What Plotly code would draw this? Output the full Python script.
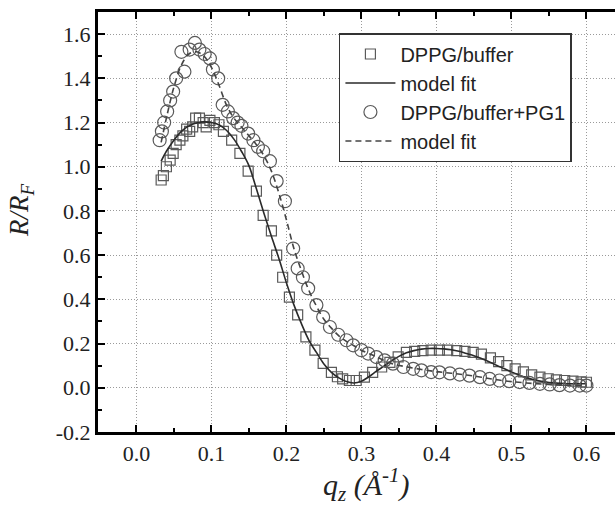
import plotly.graph_objects as go

# ---- data ----
sq_q = [0.033, 0.036, 0.040, 0.045, 0.049, 0.053, 0.058, 0.062, 0.067, 0.071, 0.075, 0.079,
        0.084, 0.089, 0.093, 0.098, 0.104, 0.110, 0.116, 0.127, 0.138, 0.149, 0.160, 0.169,
        0.180, 0.187, 0.195, 0.204, 0.215, 0.226, 0.238, 0.249, 0.260, 0.268, 0.275, 0.284,
        0.293, 0.304, 0.315, 0.327, 0.338, 0.349, 0.360, 0.371, 0.382, 0.393, 0.404, 0.415,
        0.427, 0.438, 0.449, 0.460, 0.472, 0.483, 0.494, 0.505, 0.516, 0.527, 0.538, 0.549,
        0.560, 0.571, 0.582, 0.593, 0.600]
sq_r = [0.94, 0.96, 1.00, 1.03, 1.06, 1.10, 1.12, 1.14, 1.17, 1.16, 1.18, 1.22,
        1.22, 1.20, 1.18, 1.21, 1.20, 1.19, 1.16, 1.12, 1.06, 0.98, 0.89, 0.78,
        0.71, 0.60, 0.50, 0.41, 0.33, 0.23, 0.17, 0.11, 0.07, 0.05, 0.04, 0.033,
        0.033, 0.048, 0.07, 0.094, 0.115, 0.14, 0.16, 0.165, 0.168, 0.17, 0.17, 0.17,
        0.168, 0.165, 0.16, 0.152, 0.135, 0.118, 0.10, 0.086, 0.072, 0.058, 0.048, 0.041,
        0.036, 0.033, 0.03, 0.027, 0.025]

fit1_q = [0.033, 0.04, 0.05, 0.06, 0.07, 0.08, 0.09, 0.10, 0.11, 0.12, 0.13, 0.14, 0.15,
          0.16, 0.17, 0.18, 0.19, 0.20, 0.21, 0.22, 0.23, 0.24, 0.25, 0.26, 0.27, 0.28,
          0.29, 0.30, 0.31, 0.32, 0.33, 0.34, 0.35, 0.36, 0.37, 0.38, 0.39, 0.40, 0.41,
          0.42, 0.43, 0.44, 0.45, 0.46, 0.47, 0.48, 0.49, 0.50, 0.51, 0.52, 0.53, 0.54,
          0.55, 0.56, 0.57, 0.58, 0.59, 0.60]
fit1_r = [1.025, 1.07, 1.12, 1.16, 1.185, 1.198, 1.203, 1.20, 1.19, 1.165, 1.125, 1.07, 1.005,
          0.90, 0.79, 0.685, 0.585, 0.475, 0.375, 0.29, 0.215, 0.16, 0.108, 0.07, 0.045, 0.028,
          0.022, 0.03, 0.05, 0.075, 0.098, 0.122, 0.142, 0.158, 0.168, 0.175, 0.178, 0.178, 0.176,
          0.172, 0.165, 0.155, 0.145, 0.132, 0.118, 0.102, 0.087, 0.072, 0.058, 0.046, 0.036, 0.029,
          0.024, 0.021, 0.019, 0.018, 0.018, 0.018]

ci_q = [0.031, 0.034, 0.037, 0.041, 0.045, 0.049, 0.053, 0.060, 0.064, 0.071, 0.078, 0.084,
        0.091, 0.098, 0.102, 0.109, 0.115, 0.122, 0.129, 0.135, 0.140, 0.149, 0.156, 0.162,
        0.169, 0.178, 0.187, 0.198, 0.209, 0.215, 0.222, 0.229, 0.240, 0.249, 0.258, 0.269,
        0.280, 0.289, 0.300, 0.309, 0.320, 0.331, 0.342, 0.356, 0.369, 0.380, 0.393, 0.404,
        0.418, 0.431, 0.444, 0.458, 0.471, 0.484, 0.497, 0.511, 0.524, 0.538, 0.551, 0.564,
        0.578, 0.591, 0.600]
ci_r = [1.12, 1.16, 1.20, 1.25, 1.30, 1.34, 1.40, 1.52, 1.43, 1.53, 1.56, 1.53,
        1.51, 1.49, 1.44, 1.40, 1.28, 1.25, 1.22, 1.20, 1.185, 1.15, 1.12, 1.09,
        1.07, 1.025, 0.935, 0.844, 0.63, 0.54, 0.50, 0.45, 0.374, 0.32, 0.275, 0.24,
        0.215, 0.192, 0.17, 0.155, 0.139, 0.124, 0.109, 0.094, 0.086, 0.079, 0.071, 0.07,
        0.065, 0.06, 0.055, 0.048, 0.04, 0.033, 0.03, 0.026, 0.022, 0.018, 0.015, 0.012,
        0.01, 0.01, 0.01]

fit2_q = [0.033, 0.04, 0.05, 0.06, 0.07, 0.08, 0.09, 0.10, 0.11, 0.12, 0.13, 0.14, 0.15,
          0.16, 0.17, 0.18, 0.19, 0.20, 0.21, 0.22, 0.23, 0.24, 0.25, 0.26, 0.27, 0.28,
          0.29, 0.30, 0.32, 0.34, 0.36, 0.38, 0.40, 0.42, 0.44, 0.46, 0.48, 0.50, 0.52,
          0.54, 0.56, 0.58, 0.60]
fit2_r = [1.11, 1.22, 1.36, 1.46, 1.51, 1.52, 1.50, 1.45, 1.37, 1.28, 1.22, 1.18, 1.14,
          1.10, 1.05, 0.98, 0.88, 0.76, 0.63, 0.53, 0.44, 0.37, 0.31, 0.27, 0.235, 0.21,
          0.19, 0.17, 0.14, 0.11, 0.095, 0.083, 0.073, 0.066, 0.058, 0.048, 0.036, 0.028, 0.022,
          0.017, 0.013, 0.011, 0.01]

x_tickvals = [0.0, 0.1, 0.2, 0.3, 0.4, 0.5, 0.6]
x_ticktext = ["0.0", "0.1", "0.2", "0.3", "0.4", "0.5", "0.6"]
y_tickvals = [-0.2, 0.0, 0.2, 0.4, 0.6, 0.8, 1.0, 1.2, 1.4, 1.6]
y_ticktext = ["-0.2", "0.0", "0.2", "0.4", "0.6", "0.8", "1.0", "1.2", "1.4", "1.6"]

names = ["DPPG/buffer", "model fit", "DPPG/buffer+PG1", "model fit"]

# ---- figure ----
fig = go.Figure()
fig.add_trace(go.Scatter(x=sq_q, y=sq_r, mode="markers", name=names[0],
                         marker=dict(symbol="square-open", size=10, color="#5a5a5a",
                                     line=dict(width=1.2, color="#5a5a5a"))))
fig.add_trace(go.Scatter(x=fit1_q, y=fit1_r, mode="lines", name=names[1],
                         line=dict(color="#2a2a2a", width=1.6, shape="spline")))
fig.add_trace(go.Scatter(x=ci_q, y=ci_r, mode="markers", name=names[2],
                         marker=dict(symbol="circle-open", size=13, color="#5a5a5a",
                                     line=dict(width=1.2, color="#5a5a5a"))))
fig.add_trace(go.Scatter(x=fit2_q, y=fit2_r, mode="lines", name=names[3],
                         line=dict(color="#444444", width=1.6, dash="6px,4px", shape="spline")))

serif = "Liberation Serif"
sans = "Liberation Sans"

fig.update_xaxes(range=[-0.0512, 0.6381], tickvals=x_tickvals, ticktext=x_ticktext,
                 ticks="inside", ticklen=7, tickwidth=2, tickcolor="black",
                 showline=True, linewidth=3, linecolor="black", mirror="ticks",
                 showgrid=True, gridcolor="#9a9a9a", gridwidth=1, griddash="1px,2px",
                 zeroline=False,
                 minor=dict(ticks="inside", ticklen=4, tickwidth=2, tickcolor="black",
                            tick0=0, dtick=0.05, showgrid=False),
                 tickfont=dict(family=serif, size=22, color="#222"))
fig.update_yaxes(range=[-0.2, 1.7], tickvals=y_tickvals, ticktext=y_ticktext,
                 ticks="inside", ticklen=7, tickwidth=2, tickcolor="black",
                 showline=True, linewidth=3, linecolor="black", mirror=False,
                 showgrid=True, gridcolor="#9a9a9a", gridwidth=1, griddash="1px,2px",
                 zeroline=False,
                 minor=dict(ticks="inside", ticklen=4, tickwidth=2, tickcolor="black",
                            tick0=0, dtick=0.1, showgrid=False),
                 tickfont=dict(family=serif, size=22, color="#222"))

fig.add_annotation(text="<i>R/R<sub>F</sub></i>", xref="paper", yref="paper",
                   x=-0.148, y=0.53, textangle=-90, showarrow=False,
                   xanchor="center", yanchor="middle",
                   font=dict(family=serif, size=27, color="#222"))
fig.add_annotation(text="<i>q<sub>z</sub> (Å<sup>-1</sup>)</i>", xref="paper", yref="paper",
                   x=0.52, y=-0.125, showarrow=False,
                   xanchor="center", yanchor="middle",
                   font=dict(family=serif, size=30, color="#222"))

fig.update_layout(
    width=615, height=508,
    margin=dict(l=98, r=0, t=12, b=76),
    paper_bgcolor="white", plot_bgcolor="white",
    showlegend=True,
    legend=dict(x=0.466, y=0.95, xanchor="left", yanchor="top",
                bgcolor="white", bordercolor="#333", borderwidth=1.5,
                itemwidth=50, tracegroupgap=0,
                font=dict(family=sans, size=20, color="#222")),
)

fig.write_html("out.html", config={"displayModeBar": False},
               post_script="document.body.style.margin='0';document.body.style.overflow='hidden';")
